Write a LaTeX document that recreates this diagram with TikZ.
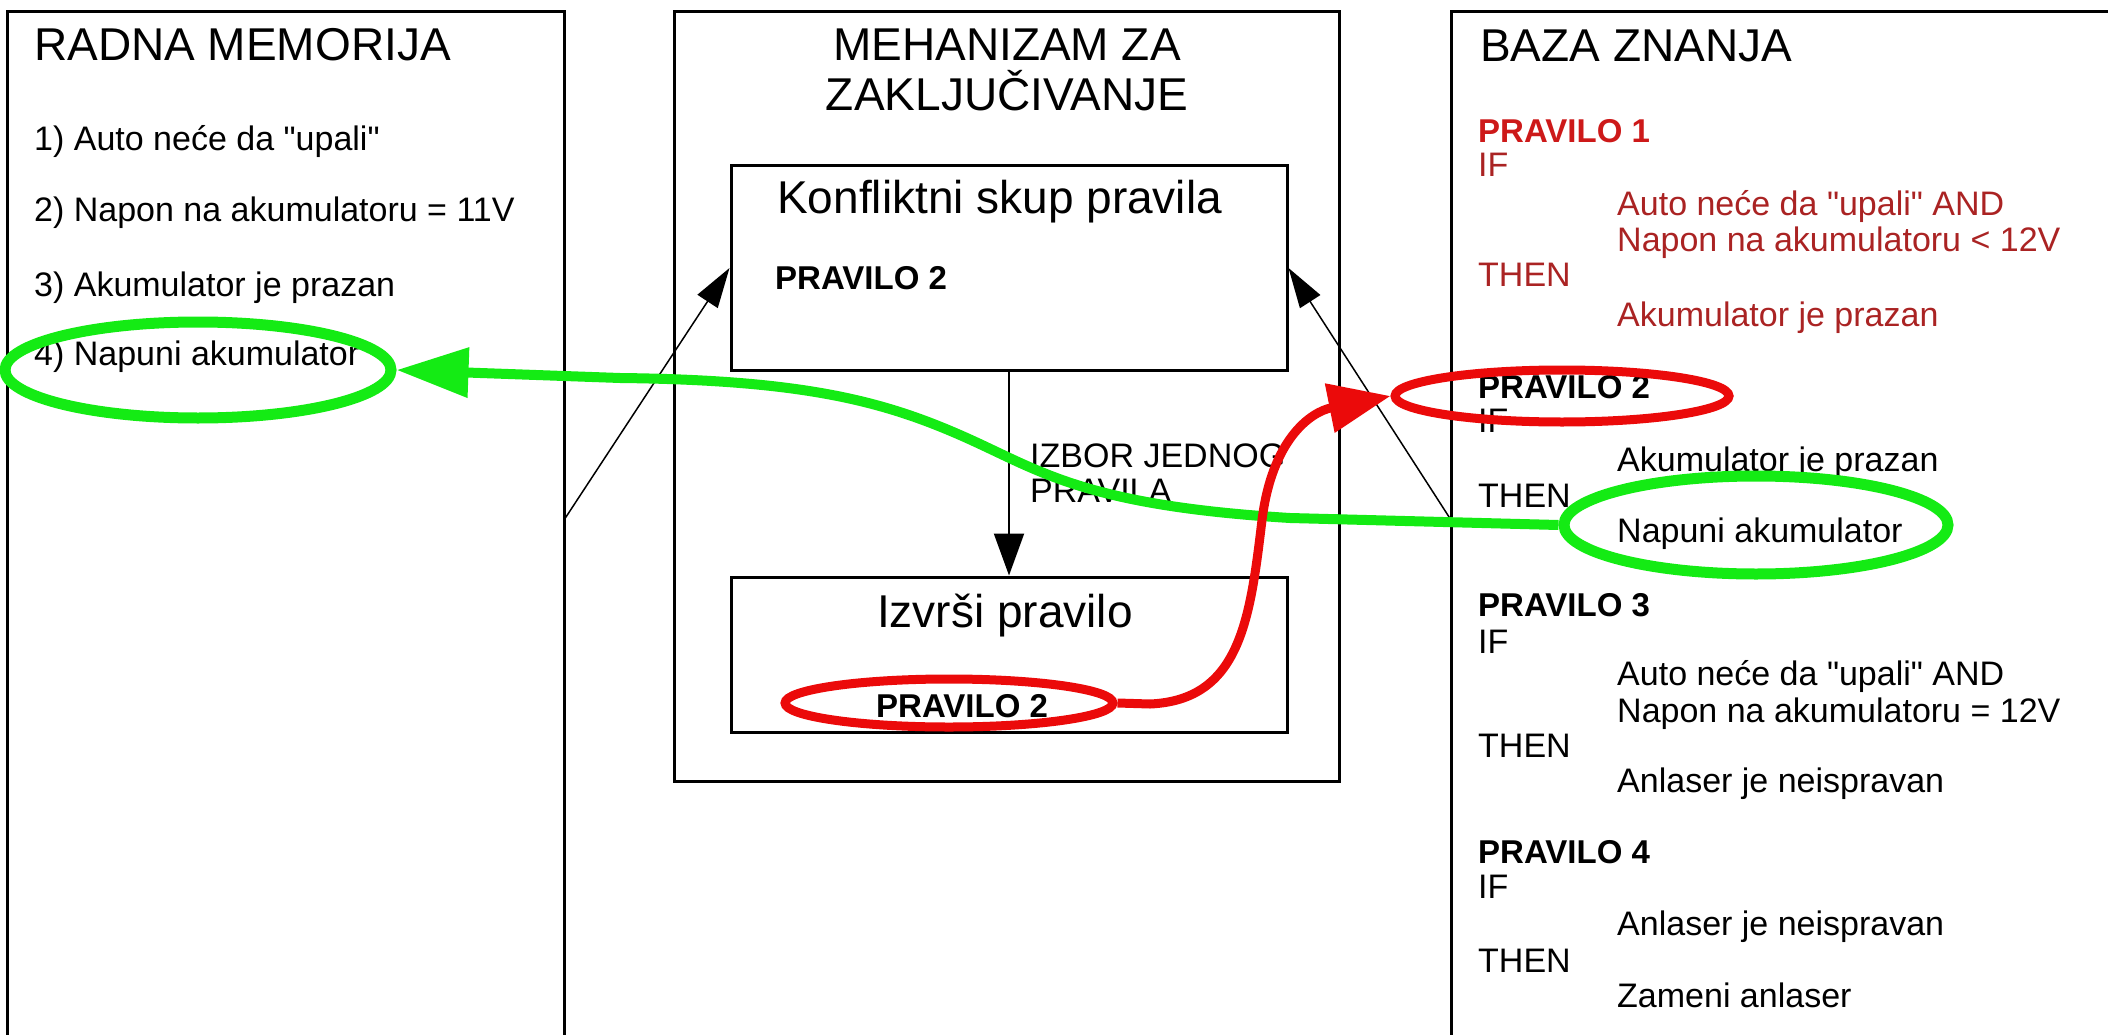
\documentclass[tikz,border=0pt]{standalone}
\usepackage{fontspec}
\setmainfont{Liberation Sans}
\usepackage{tikz}
\usetikzlibrary{arrows.meta}
\usetikzlibrary{shapes.geometric}
\usetikzlibrary{positioning}

\definecolor{zelena}{RGB}{20,235,20}
\definecolor{crvena}{RGB}{235,10,10}
\definecolor{pravcrv}{RGB}{205,25,25}
\definecolor{tekcrv}{RGB}{170,35,35}

\tikzset{okvir/.style={draw, line width=3pt, inner sep=0pt},
         tekst/.style={anchor=base west, inner sep=0pt,
                       font=\fontsize{34}{40}\selectfont},
         naslov/.style={anchor=base west, inner sep=0pt,
                        font=\fontsize{46}{54}\selectfont},
         pravilo/.style={anchor=base west, inner sep=0pt,
                         font=\fontsize{33}{40}\selectfont\bfseries},
         krug/.style={ellipse, draw, inner sep=0pt},
         tanka/.style={line width=1.5pt, -{Triangle[length=40pt,width=24pt]}}}

\begin{document}
\begin{tikzpicture}[x=1pt, y=-1pt]
 \useasboundingbox (0,0) rectangle (2108,1035);
 % tri glavna okvira
 \node[okvir, minimum width=557pt, minimum height=1060pt] (radna) at (285.5,542) {};
 \node[okvir, minimum width=665pt, minimum height=769pt] (mehanizam) at (1006.5,396.5) {};
 \node[okvir, minimum width=679pt, minimum height=1060pt] (baza) at (1790.5,542) {};
 \node[okvir, minimum width=556pt, minimum height=204pt] (konflikt) at (1009,268) {};
 \node[okvir, minimum width=556pt, minimum height=155pt] (izvrsi) at (1009,654.5) {};

 % radna memorija
 \node[naslov] (rmnaslov) at (34,61) {RADNA MEMORIJA};
 \node[tekst] (stavka1) at (34,151) {1) Auto neće da \textquotedbl upali\textquotedbl};
 \node[tekst] (stavka2) at (34,222) {2) Napon na akumulatoru = 11V};
 \node[tekst] (stavka3) at (34,296) {3) Akumulator je prazan};
 \node[tekst] (stavka4) at (34,365) {4) Napuni akumulator};

 % mehanizam za zakljucivanje
 \node[naslov, anchor=base] (mznaslov1) at (1007,61) {MEHANIZAM ZA};
 \node[naslov, anchor=base] (mznaslov2) at (1007,111) {ZAKLJUČIVANJE};
 \node[naslov] (ksnaslov) at (777,214) {Konfliktni skup pravila};
 \node[pravilo] (kspravilo) at (775,289) {PRAVILO 2};
 \node[naslov, anchor=base] (ipnaslov) at (1005,627) {Izvrši pravilo};
 \node[pravilo] (ippravilo) at (876,717) {PRAVILO 2};
 \node[tekst] (izbor1) at (1030,467) {IZBOR JEDNOG};
 \node[tekst] (izbor2) at (1030,502) {PRAVILA};
 \draw[line width=2pt, -{Triangle[length=42pt,width=30pt]}] (konflikt.south) -- (izvrsi.north);

 % baza znanja
 \node[naslov] (bznaslov) at (1480,62) {BAZA ZNANJA};
 \node[pravilo, text=pravcrv] (p1) at (1478,143) {PRAVILO 1};
 \node[tekst, text=tekcrv] (p1if) at (1478,177) {IF};
 \node[tekst, text=tekcrv] (p1us1) at (1617,215) {Auto neće da \textquotedbl upali\textquotedbl\ AND};
 \node[tekst, text=tekcrv] (p1us2) at (1617,251) {Napon na akumulatoru < 12V};
 \node[tekst, text=tekcrv] (p1then) at (1478,286) {THEN};
 \node[tekst, text=tekcrv] (p1za) at (1617,326) {Akumulator je prazan};
 \node[pravilo] (p2) at (1478,398) {PRAVILO 2};
 \node[tekst] (p2if) at (1478,432) {IF};
 \node[tekst] (p2us1) at (1617,471) {Akumulator je prazan};
 \node[tekst] (p2then) at (1478,507) {THEN};
 \node[tekst] (p2za) at (1617,542) {Napuni akumulator};
 \node[pravilo] (p3) at (1478,616) {PRAVILO 3};
 \node[tekst] (p3if) at (1478,653) {IF};
 \node[tekst] (p3us1) at (1617,685) {Auto neće da \textquotedbl upali\textquotedbl\ AND};
 \node[tekst] (p3us2) at (1617,722) {Napon na akumulatoru = 12V};
 \node[tekst] (p3then) at (1478,757) {THEN};
 \node[tekst] (p3za) at (1617,792) {Anlaser je neispravan};
 \node[pravilo] (p4) at (1478,863) {PRAVILO 4};
 \node[tekst] (p4if) at (1478,898) {IF};
 \node[tekst] (p4us1) at (1617,935) {Anlaser je neispravan};
 \node[tekst] (p4then) at (1478,972) {THEN};
 \node[tekst] (p4za) at (1617,1007) {Zameni anlaser};

 % tanke strelice ka konfliktnom skupu
 \coordinate (rmizlaz) at (564,520);
 \coordinate (bzizlaz) at (1451,520);
 \draw[tanka] (rmizlaz) -- (konflikt.west);
 \draw[tanka] (bzizlaz) -- (konflikt.east);

 % oznacena pravila i cinjenice
 \node[krug, draw=zelena, line width=11pt, minimum width=386pt, minimum height=96pt] (cilj) at (198,370) {};
 \node[krug, draw=zelena, line width=11pt, minimum width=384pt, minimum height=98pt] (akcija) at (1756,525) {};
 \node[krug, draw=crvena, line width=9pt, minimum width=328pt, minimum height=48pt] (izabrano) at (949,703) {};
 \node[krug, draw=crvena, line width=9pt, minimum width=334pt, minimum height=52pt] (pravilo2) at (1562,396) {};

 \draw[zelena, line width=10pt, -{Triangle[length=72pt,width=48pt]}]
   (akcija.west) -- (1290,518) .. controls (1080,505) and (1040,470) .. (960,435)
   .. controls (880,400) and (800,380) .. (620,378) -- (cilj.east);
 \draw[crvena, line width=9pt, -{Triangle[length=62pt,width=48pt]}]
   (izabrano.east) -- (1150,704) .. controls (1240,700) and (1250,620) .. (1262,520)
   .. controls (1272,440) and (1310,412) .. (pravilo2.west);
\end{tikzpicture}
\end{document}
